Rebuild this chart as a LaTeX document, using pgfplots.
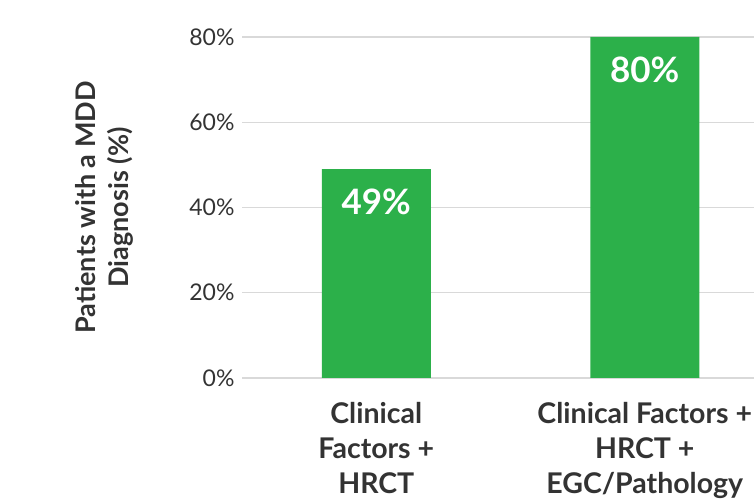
\documentclass[border=0pt]{standalone}
\usepackage{pgfplots}
\pgfplotsset{compat=1.18}
\usepackage{fontspec}
\setmainfont{Lato}
\definecolor{barg}{HTML}{2CB04A}
\definecolor{txt}{HTML}{333333}
\definecolor{gridc}{HTML}{D9D9D9}
\begin{document}
\begin{tikzpicture}
\path[use as bounding box] (0,0) rectangle (754pt,502pt);
\begin{axis}[
  at={(242pt,124pt)}, anchor=south west,
  scale only axis, width=537pt, height=341pt,
  xmin=-0.5, xmax=1.5, ymin=0, ymax=80,
  /pgf/number format/assume math mode=true,
  axis line style={draw=none},
  major tick length=0pt,
  ymajorgrids, grid style={gridc, line width=1.3pt},
  ytick={0,20,40,60,80},
  yticklabel={\pgfmathprintnumber{\tick}\%},
  yticklabel style={font=\fontsize{23}{26}\selectfont, text=txt, xshift=-4pt},
  xtick={0,1},
  xticklabels={Clinical\\Factors +\\HRCT, Clinical Factors +\\HRCT +\\EGC/Pathology},
  xticklabel style={align=center, font=\bfseries\fontsize{28.5}{35}\selectfont, text=txt, yshift=-21pt},
  ylabel={Patients with a MDD\\Diagnosis (\%)},
  ylabel style={align=center, font=\bfseries\fontsize{27}{33}\selectfont, text=txt, at={(axis description cs:-0.257,0.5)}, anchor=center},
  ybar, bar width=109pt,
  nodes near coords={\pgfmathprintnumber{\pgfplotspointmeta}\%},
  every node near coord/.append style={font=\bfseries\fontsize{35}{36}\selectfont, text=white, anchor=center, yshift=-33pt},
]
\addplot[fill=barg, draw=none] coordinates {(0,49) (1,80)};
\end{axis}
\end{tikzpicture}
\end{document}
